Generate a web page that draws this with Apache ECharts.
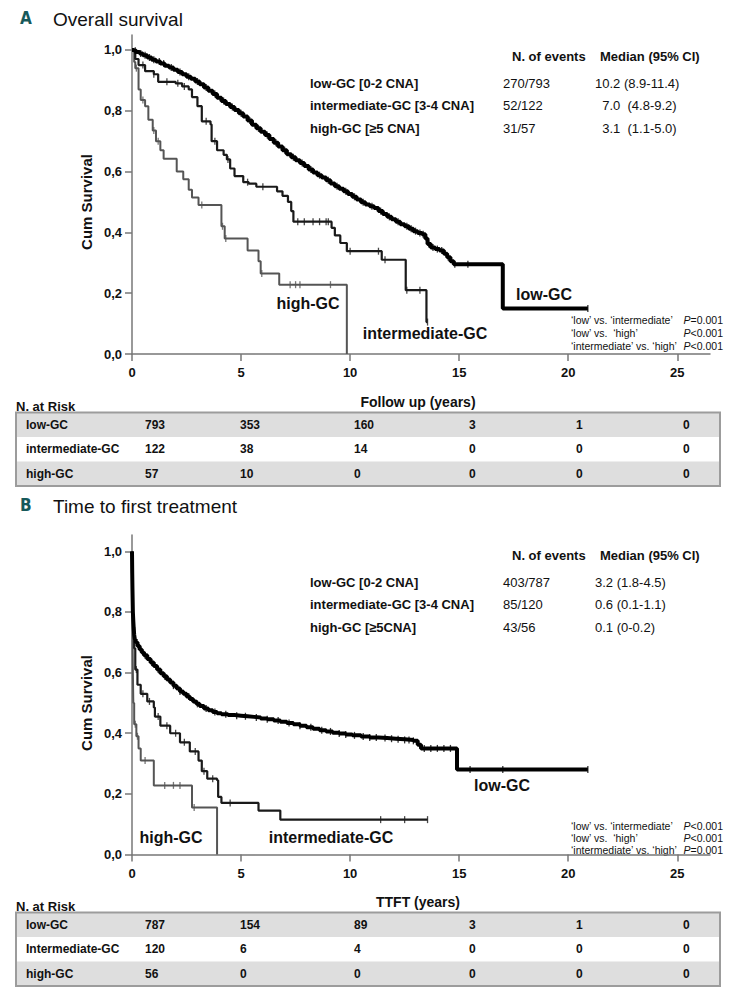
<!DOCTYPE html>
<html><head><meta charset="utf-8">
<script src="https://cdn.jsdelivr.net/npm/echarts@6/dist/echarts.min.js"></script>
<style>html,body{margin:0;padding:0;background:#fff}#c{width:737px;height:993px}</style>
</head><body><div id="c"></div>
<script>
// ---------- axis ticks ----------
const xTicks = [0, 5, 10, 15, 20, 25];
const yTicks = [0, 0.2, 0.4, 0.6, 0.8, 1.0];

// ---------- Panel A: Overall survival (KM step points) ----------
const osLowT = [0, 0.1, 0.2, 0.35, 0.5, 0.7, 0.9, 1.1, 1.3, 1.5, 1.7, 1.9, 2.1, 2.3, 2.5, 2.7, 2.9, 3.1, 3.3, 3.5, 3.7, 3.9, 4.1, 4.3, 4.5, 4.7, 4.9, 5.1, 5.3, 5.5, 5.7, 5.9, 6.1, 6.3, 6.5, 6.7, 6.9, 7.1, 7.3, 7.5, 7.7, 7.9, 8.1, 8.3, 8.5, 8.7, 8.9, 9.1, 9.3, 9.5, 9.7, 9.9, 10.1, 10.3, 10.5, 10.7, 10.9, 11.1, 11.3, 11.5, 11.7, 11.9, 12.1, 12.3, 12.5, 12.7, 12.9, 13.1, 13.3, 13.45, 13.55, 13.7, 13.9, 14.1, 14.3, 14.45, 14.6, 14.75, 17.0, 20.9];
const osLowS = [1, 0.997, 0.993, 0.988, 0.982, 0.975, 0.968, 0.962, 0.955, 0.948, 0.942, 0.935, 0.927, 0.92, 0.912, 0.905, 0.896, 0.887, 0.876, 0.866, 0.855, 0.843, 0.832, 0.822, 0.812, 0.802, 0.792, 0.781, 0.768, 0.754, 0.742, 0.731, 0.72, 0.707, 0.695, 0.682, 0.67, 0.657, 0.647, 0.637, 0.628, 0.618, 0.607, 0.597, 0.588, 0.58, 0.571, 0.561, 0.552, 0.543, 0.535, 0.526, 0.517, 0.508, 0.499, 0.492, 0.486, 0.48, 0.47, 0.46, 0.451, 0.443, 0.435, 0.427, 0.42, 0.412, 0.404, 0.398, 0.394, 0.38, 0.362, 0.35, 0.345, 0.34, 0.33, 0.318, 0.305, 0.295, 0.15, 0.15];
const osLowCens = [0.15, 0.4, 0.6, 0.8, 1.0, 1.25, 1.45, 1.8, 2.2, 2.6, 3.0, 3.4, 3.8, 4.2, 4.6, 5.0, 5.4, 5.8, 6.2, 6.6, 7.0, 7.4, 7.8, 8.2, 8.6, 9.0, 9.4, 9.8, 10.2, 10.6, 11.0, 11.4, 11.8, 12.2, 12.6, 12.8, 13.0, 13.2, 13.35, 13.6, 13.8, 14.0, 14.2, 14.5, 14.8, 15.4, 20.9];

const osIntT = [0, 0.15, 0.3, 0.6, 1.0, 1.2, 2.0, 2.3, 2.6, 2.75, 3.0, 3.2, 3.6, 3.65, 3.9, 4.2, 4.35, 4.5, 4.7, 5.1, 5.35, 5.7, 6.65, 6.9, 7.15, 7.3, 7.4, 9.15, 9.3, 9.55, 9.85, 11.45, 12.55, 13.5, 13.55];
const osIntS = [1, 0.97, 0.95, 0.93, 0.92, 0.895, 0.89, 0.88, 0.87, 0.845, 0.815, 0.765, 0.755, 0.70, 0.67, 0.655, 0.64, 0.61, 0.585, 0.565, 0.56, 0.55, 0.535, 0.52, 0.5, 0.47, 0.435, 0.415, 0.39, 0.365, 0.338, 0.31, 0.21, 0.105, 0.105];
const osIntCens = [0.5, 1.0, 1.6, 2.1, 2.4, 3.4, 3.8, 4.4, 5.3, 6.0, 7.6, 7.9, 8.3, 8.6, 8.9, 9.0, 10.0, 11.3, 11.6, 12.6, 13.2, 13.55];

const osHighT = [0, 0.1, 0.15, 0.3, 0.4, 0.6, 0.75, 0.95, 1.1, 1.3, 1.45, 2.05, 2.35, 2.6, 2.75, 3.05, 4.1, 4.25, 5.3, 5.8, 5.9, 6.75, 9.85];
const osHighS = [1, 0.96, 0.94, 0.87, 0.835, 0.815, 0.77, 0.735, 0.70, 0.67, 0.642, 0.60, 0.575, 0.54, 0.515, 0.49, 0.42, 0.38, 0.34, 0.305, 0.265, 0.228, 0];
const osHighCens = [0.2, 0.5, 1.0, 1.2, 3.2, 4.15, 4.3, 5.95, 7.25, 7.5, 7.7, 9.1];

// ---------- Panel B: Time to first treatment ----------
const ttLowT = [0, 0.01, 0.02, 0.03, 0.04, 0.06, 0.08, 0.1, 0.13, 0.17, 0.25, 0.35, 0.45, 0.55, 0.7, 0.85, 1.0, 1.15, 1.3, 1.45, 1.6, 1.75, 1.9, 2.05, 2.2, 2.35, 2.5, 2.65, 2.8, 2.95, 3.1, 3.3, 3.5, 3.7, 3.9, 4.1, 4.4, 4.7, 5.0, 5.3, 5.6, 5.9, 6.2, 6.5, 6.8, 7.1, 7.4, 7.7, 8.0, 8.3, 8.6, 8.9, 9.2, 9.5, 9.8, 10.1, 10.5, 10.9, 11.3, 11.7, 12.1, 12.5, 12.9, 13.1, 13.25, 14.9, 20.9];
const ttLowS = [1, 0.93, 0.88, 0.84, 0.80, 0.77, 0.745, 0.725, 0.71, 0.70, 0.688, 0.676, 0.666, 0.657, 0.645, 0.633, 0.622, 0.61, 0.598, 0.588, 0.577, 0.567, 0.557, 0.548, 0.538, 0.53, 0.521, 0.513, 0.505, 0.497, 0.49, 0.482, 0.476, 0.47, 0.466, 0.463, 0.46, 0.458, 0.456, 0.454, 0.452, 0.449, 0.446, 0.442, 0.438, 0.434, 0.43, 0.425, 0.42, 0.415, 0.41, 0.406, 0.402, 0.399, 0.396, 0.393, 0.389, 0.386, 0.384, 0.382, 0.38, 0.378, 0.375, 0.362, 0.35, 0.28, 0.28];
const ttLowCens = [0.01, 0.03, 0.05, 0.3, 0.6, 0.9, 1.2, 1.5, 1.9, 2.2, 2.6, 3.0, 3.4, 3.8, 4.3, 4.8, 5.2, 5.7, 6.2, 6.7, 7.2, 7.7, 8.2, 8.7, 9.1, 9.5, 9.8, 10.2, 10.6, 10.9, 11.2, 11.6, 11.9, 12.2, 12.5, 12.7, 12.9, 13.4, 13.7, 14.0, 14.3, 14.6, 15.5, 17.0, 20.9];

const ttIntT = [0, 0.03, 0.06, 0.1, 0.15, 0.25, 0.4, 0.7, 1.0, 1.05, 1.3, 1.75, 2.2, 2.65, 3.05, 3.2, 3.45, 3.9, 3.95, 4.1, 5.8, 6.8, 13.55];
const ttIntS = [1, 0.85, 0.75, 0.68, 0.61, 0.56, 0.53, 0.505, 0.485, 0.455, 0.425, 0.40, 0.37, 0.34, 0.31, 0.275, 0.25, 0.245, 0.19, 0.17, 0.145, 0.115, 0.115];
const ttIntCens = [0.2, 0.5, 0.8, 1.2, 1.6, 2.0, 2.4, 2.9, 3.3, 3.7, 4.5, 11.4, 12.5, 13.55];

const ttHighT = [0, 0.02, 0.04, 0.06, 0.1, 0.2, 0.3, 0.4, 1.0, 2.75, 3.9];
const ttHighS = [1, 0.8, 0.6, 0.5, 0.43, 0.39, 0.35, 0.31, 0.228, 0.155, 0];
const ttHighCens = [0.15, 0.25, 0.6, 1.5, 1.9, 2.2, 2.85];

// ---------- legends / tables ----------
const osLegendLabels = ['low-GC [0-2 CNA]', 'intermediate-GC [3-4 CNA]', 'high-GC [\u22655 CNA]'];
const osEvents = ['270/793', '52/122', '31/57'];
const osMedians = ['10.2 (8.9-11.4)', '\u20077.0  (4.8-9.2)', '\u20073.1  (1.1-5.0)'];
const ttLegendLabels = ['low-GC [0-2 CNA]', 'intermediate-GC [3-4 CNA]', 'high-GC [\u22655CNA]'];
const ttEvents = ['403/787', '85/120', '43/56'];
const ttMedians = ['3.2 (1.8-4.5)', '0.6 (0.1-1.1)', '0.1 (0-0.2)'];

const osPvalPairs = ['\u2018low\u2019 vs. \u2018intermediate\u2019', '\u2018low\u2019 vs.  \u2018high\u2019', '\u2018intermediate\u2019 vs. \u2018high\u2019'];
const osPvals = ['=0.001', '<0.001', '<0.001'];
const ttPvals = ['<0.001', '<0.001', '=0.001'];

const osRiskLabels = ['low-GC', 'intermediate-GC', 'high-GC'];
const osRisk = [[793, 353, 160, 3, 1, 0], [122, 38, 14, 0, 0, 0], [57, 10, 0, 0, 0, 0]];
const ttRiskLabels = ['low-GC', 'Intermediate-GC', 'high-GC'];
const ttRisk = [[787, 154, 89, 3, 1, 0], [120, 6, 4, 0, 0, 0], [56, 0, 0, 0, 0, 0]];

// ---------- helpers ----------
const FONT = '"Liberation Sans", Arial, sans-serif';
function pts(t, s) { return t.map((v, i) => [v, s[i]]); }
function survAt(t, s, x) { let v = s[0]; for (let i = 0; i < t.length; i++) { if (t[i] <= x) v = s[i]; else break; } return v; }
function cens(t, s, c) { return c.map(x => [x, survAt(t, s, x)]); }
function km(g, t, s, c, color, width, z) {
  return [
    { type: 'line', xAxisIndex: g, yAxisIndex: g, data: pts(t, s), step: 'end', symbol: 'none',
      lineStyle: { color: color, width: width }, silent: true, animation: false, z: z },
    { type: 'scatter', xAxisIndex: g, yAxisIndex: g, data: cens(t, s, c), symbol: 'rect', symbolSize: [1.3, 7],
      itemStyle: { color: color }, silent: true, animation: false, z: z }
  ];
}
const AX = '#777';
function xAx(g) {
  return { type: 'value', gridIndex: g, min: 0, max: 26.5,
    axisLine: { show: true, lineStyle: { color: AX, width: 1.5 } },
    axisTick: { show: true, length: 7, customValues: xTicks, lineStyle: { color: AX, width: 1.5 } },
    axisLabel: { customValues: xTicks, margin: 12, color: '#111', fontWeight: 'bold', fontSize: 13, fontFamily: FONT },
    splitLine: { show: false } };
}
function yAx(g, max) {
  return { type: 'value', gridIndex: g, min: 0, max: max,
    axisLine: { show: true, lineStyle: { color: AX, width: 1.5 } },
    axisTick: { show: true, length: 7, customValues: yTicks, lineStyle: { color: AX, width: 1.5 } },
    axisLabel: { customValues: yTicks, margin: 10, color: '#111', fontWeight: 'bold', fontSize: 13, fontFamily: FONT,
      formatter: v => v.toFixed(1).replace('.', ',') },
    splitLine: { show: false } };
}
function txt(x, y, text, o) {
  o = o || {};
  return { type: 'text', x: x, y: y, rotation: o.rot || 0, silent: true,
    style: { text: text, fill: o.color || '#111', font: (o.italic ? 'italic ' : '') + (o.bold ? 'bold ' : '') + (o.size || 12) + 'px ' + (o.family || FONT),
      align: o.align || 'left', verticalAlign: 'middle' } };
}

const G = [];
function panelHeader(y, letter, title) {
  G.push(txt(20, y - 1, letter, { bold: true, size: 17, color: '#17595a', family: '"DejaVu Sans Condensed", "Liberation Sans", sans-serif' }));
  G.push(txt(53, y, title, { size: 19 }));
}
function legendBlock(y0, labels, events, medians) {
  G.push(txt(512, y0, 'N. of events', { bold: true, size: 13 }));
  G.push(txt(600, y0, 'Median (95% CI)', { bold: true, size: 13 }));
  labels.forEach((l, i) => {
    const y = y0 + 27 + i * 22.5;
    G.push(txt(310, y, l, { bold: true, size: 13 }));
    G.push(txt(503, y, events[i], { size: 13 }));
    G.push(txt(595, y, medians[i], { size: 13 }));
  });
}
function pvalBlock(ys, pvals) {
  osPvalPairs.forEach((p, i) => {
    G.push(txt(571, ys[i], p, { size: 10.5 }));
    G.push({ type: 'text', x: 723, y: ys[i], silent: true,
      style: { text: '{i|P}{n|' + pvals[i] + '}', align: 'right', verticalAlign: 'middle',
        rich: { i: { font: 'italic 10.5px ' + FONT, fill: '#111' }, n: { font: '10.5px ' + FONT, fill: '#111' } } } });
  });
}
function riskTable(top, xlabel, labels, rows) {
  G.push(txt(418, top - 11, xlabel, { bold: true, size: 14, align: 'center' }));
  G.push(txt(16, top - 6, 'N. at Risk', { bold: true, size: 13 }));
  const rh = 24.5, colX = [145, 240, 354, 469, 576, 683];
  rows.forEach((r, i) => {
    G.push({ type: 'rect', silent: true, shape: { x: 16, y: top + i * rh, width: 704, height: rh },
      style: { fill: i === 1 ? '#ffffff' : '#dedede' } });
    G.push(txt(26, top + i * rh + rh / 2, labels[i], { bold: true, size: 12 }));
    r.forEach((v, j) => G.push(txt(colX[j], top + i * rh + rh / 2, String(v), { bold: true, size: 12 })));
  });
  G.push({ type: 'rect', silent: true, shape: { x: 16, y: top, width: 704, height: rh * 3 },
    style: { fill: 'none', stroke: '#9c9c9c', lineWidth: 2 } });
}

panelHeader(19, 'A', 'Overall survival');
panelHeader(506, 'B', 'Time to first treatment');
legendBlock(56, osLegendLabels, osEvents, osMedians);
legendBlock(555, ttLegendLabels, ttEvents, ttMedians);
pvalBlock([320, 333, 346], osPvals);
pvalBlock([826, 838, 850], ttPvals);
riskTable(412.5, 'Follow up (years)', osRiskLabels, osRisk);
riskTable(912.5, 'TTFT (years)', ttRiskLabels, ttRisk);
// axis titles
G.push(txt(86, 202, 'Cum Survival', { bold: true, size: 15, align: 'center', rot: Math.PI / 2 }));
G.push(txt(86, 703, 'Cum Survival', { bold: true, size: 15, align: 'center', rot: Math.PI / 2 }));
// curve labels
G.push(txt(308, 303, 'high-GC', { bold: true, size: 16, align: 'center' }));
G.push(txt(425, 333, 'intermediate-GC', { bold: true, size: 16, align: 'center' }));
G.push(txt(544, 294, 'low-GC', { bold: true, size: 16, align: 'center' }));
G.push(txt(171, 837, 'high-GC', { bold: true, size: 16, align: 'center' }));
G.push(txt(331, 837, 'intermediate-GC', { bold: true, size: 16, align: 'center' }));
G.push(txt(502, 785, 'low-GC', { bold: true, size: 16, align: 'center' }));

const chart = echarts.init(document.getElementById('c'), null, { renderer: 'svg', width: 737, height: 993 });
chart.setOption({
  animation: false,
  backgroundColor: '#fff',
  grid: [
    { left: 132, top: 35, width: 578, height: 319 },
    { left: 132, top: 535, width: 578, height: 319.5 }
  ],
  xAxis: [xAx(0), xAx(1)],
  yAxis: [yAx(0, 1.049), yAx(1, 1.054)],
  series: [].concat(
    km(0, osHighT, osHighS, osHighCens, '#555', 2, 2),
    km(0, osIntT, osIntS, osIntCens, '#1a1a1a', 2.2, 3),
    km(0, osLowT, osLowS, osLowCens, '#000', 4, 4),
    km(1, ttHighT, ttHighS, ttHighCens, '#555', 2, 2),
    km(1, ttIntT, ttIntS, ttIntCens, '#1a1a1a', 2.2, 3),
    km(1, ttLowT, ttLowS, ttLowCens, '#000', 4, 4)
  ),
  graphic: G
});
</script></body></html>
